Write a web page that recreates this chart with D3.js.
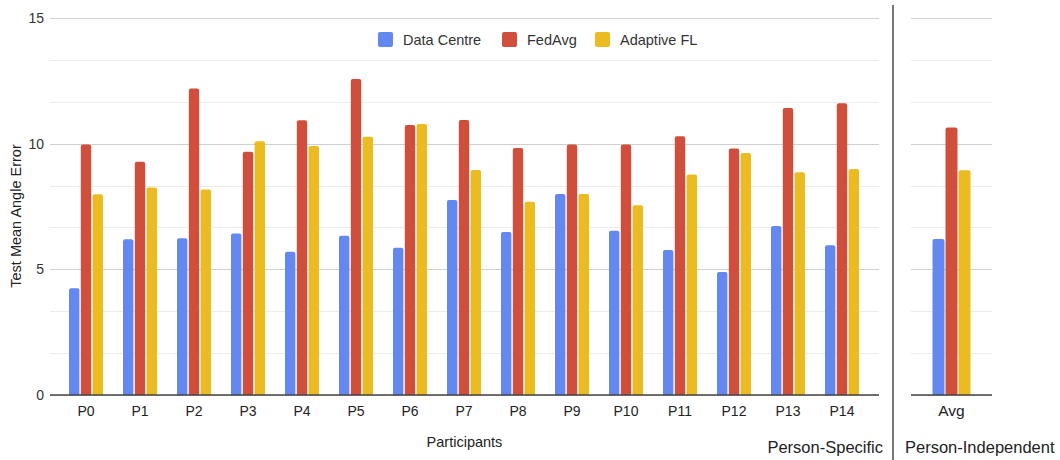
<!DOCTYPE html>
<html>
<head>
<meta charset="utf-8">
<script src="https://cdn.jsdelivr.net/npm/d3@7"></script>
<style>
  body { margin: 0; background: #fff; }
  text { font-family: Arial, "Liberation Sans", sans-serif; fill: #222; }
</style>
</head>
<body>
<script>
// chart data
var participants = ["P0","P1","P2","P3","P4","P5","P6","P7","P8","P9","P10","P11","P12","P13","P14"];
var seriesNames = ["Data Centre", "FedAvg", "Adaptive FL"];
var dataCentre = [4.25, 6.2, 6.24, 6.43, 5.7, 6.34, 5.86, 7.76, 6.49, 8.0, 6.54, 5.77, 4.89, 6.72, 5.96];
var fedAvg     = [9.97, 9.28, 12.19, 9.68, 10.93, 12.57, 10.74, 10.94, 9.83, 9.97, 9.97, 10.3, 9.81, 11.42, 11.61];
var adaptiveFL = [7.99, 8.26, 8.18, 10.1, 9.91, 10.28, 10.78, 8.95, 7.69, 8.0, 7.55, 8.77, 9.63, 8.86, 8.99];
var avgLabel = ["Avg"];
var avgValues = [6.21, 10.64, 8.94];
var yTicks = [0, 5, 10, 15];

var colors = ["#6389f0", "#cf4f3c", "#ebbb22"];
var W = 1060, H = 460;

var svg = d3.select("body").append("svg")
    .attr("width", W)
    .attr("height", H);

var y = d3.scaleLinear().domain([0, 15]).range([395, 18]);
var minor = d3.range(0, 15.01, 5 / 3);

// left panel
var x0 = d3.scaleBand().domain(participants).range([59, 869]);
var x1 = d3.scaleBand().domain(seriesNames).range([-17, 17]).paddingInner(0.12);

function grid(g, xa, xb) {
  g.selectAll("line.minor").data(minor).enter().append("line")
    .attr("x1", xa).attr("x2", xb)
    .attr("y1", function (d) { return Math.round(y(d)) + 0.5; })
    .attr("y2", function (d) { return Math.round(y(d)) + 0.5; })
    .attr("stroke", function (d) { return Math.abs(d / 5 - Math.round(d / 5)) < 0.01 ? "#d0d0d0" : "#ebebeb"; })
    .attr("stroke-width", 1.2);
}

var left = svg.append("g");
grid(left, 50, 879);

left.selectAll("text.ytick").data(yTicks).enter().append("text")
  .attr("x", 44).attr("y", function (d) { return y(d); })
  .attr("dy", "0.35em").attr("text-anchor", "end")
  .style("font-size", "14px").style("fill", "#333")
  .text(function (d) { return d; });

var rows = participants.map(function (p, i) {
  return { name: p, vals: [dataCentre[i], fedAvg[i], adaptiveFL[i]] };
});

var groups = left.selectAll("g.grp").data(rows).enter().append("g")
  .attr("transform", function (d) { return "translate(" + (x0(d.name) + x0.bandwidth() / 2) + ",0)"; });

groups.selectAll("path").data(function (d) { return d.vals; }).enter().append("path")
  .attr("fill", function (d, i) { return colors[i]; })
  .attr("d", function (d, i) { return barPath(x1(seriesNames[i]), y(d), x1.bandwidth(), y(0) - y(d)); });

function barPath(x, yy, w, h) {
  var r = 2;
  return "M" + x + "," + (yy + h) + "V" + (yy + r) + "Q" + x + "," + yy + " " + (x + r) + "," + yy +
    "H" + (x + w - r) + "Q" + (x + w) + "," + yy + " " + (x + w) + "," + (yy + r) + "V" + (yy + h) + "Z";
}

left.append("line").attr("x1", 50).attr("x2", 879).attr("y1", 395).attr("y2", 395)
  .attr("stroke", "#444").attr("stroke-width", 1.5);

left.selectAll("text.xtick").data(participants).enter().append("text")
  .attr("x", function (d) { return x0(d) + x0.bandwidth() / 2; })
  .attr("y", 411).attr("dy", "0.35em").attr("text-anchor", "middle")
  .style("font-size", "14px")
  .text(function (d) { return d; });

// legend
var legendX = [378, 502, 595];
var leg = svg.append("g");
seriesNames.forEach(function (s, i) {
  leg.append("rect").attr("x", legendX[i]).attr("y", 32).attr("width", 15).attr("height", 15)
    .attr("rx", 2).attr("fill", colors[i]);
  leg.append("text").attr("x", legendX[i] + 25).attr("y", 39.5).attr("dy", "0.35em")
    .style("font-size", "14.5px").style("fill", "#333").text(s);
});

// axis titles
svg.append("text")
  .attr("transform", "translate(16,216) rotate(-90)")
  .attr("text-anchor", "middle").attr("dy", "0.35em")
  .style("font-size", "14.5px").text("Test Mean Angle Error");

svg.append("text").attr("x", 464.5).attr("y", 442).attr("dy", "0.35em")
  .attr("text-anchor", "middle").style("font-size", "14.5px").text("Participants");

svg.append("text").attr("x", 883).attr("y", 447).attr("dy", "0.35em")
  .attr("text-anchor", "end").style("font-size", "16.5px").text("Person-Specific");

svg.append("text").attr("x", 905).attr("y", 447).attr("dy", "0.35em")
  .attr("text-anchor", "start").style("font-size", "16.5px").text("Person-Independent");

// divider
svg.append("line").attr("x1", 893).attr("x2", 893).attr("y1", 5).attr("y2", H)
  .attr("stroke", "#777").attr("stroke-width", 2);

// right panel
var right = svg.append("g");
grid(right, 911, 992);
var xr = d3.scaleBand().domain(avgLabel).range([911, 992]);
var xr1 = d3.scaleBand().domain(seriesNames).range([-19, 19]).paddingInner(0.08);
var cx = xr("Avg") + xr.bandwidth() / 2;

right.selectAll("path").data(avgValues).enter().append("path")
  .attr("fill", function (d, i) { return colors[i]; })
  .attr("d", function (d, i) { return barPath(cx + xr1(seriesNames[i]), y(d), xr1.bandwidth(), y(0) - y(d)); });

right.append("line").attr("x1", 911).attr("x2", 992).attr("y1", 395).attr("y2", 395)
  .attr("stroke", "#444").attr("stroke-width", 1.5);

right.append("text").attr("x", cx).attr("y", 411).attr("dy", "0.35em")
  .attr("text-anchor", "middle").style("font-size", "15.5px").text("Avg");
</script>
</body>
</html>
